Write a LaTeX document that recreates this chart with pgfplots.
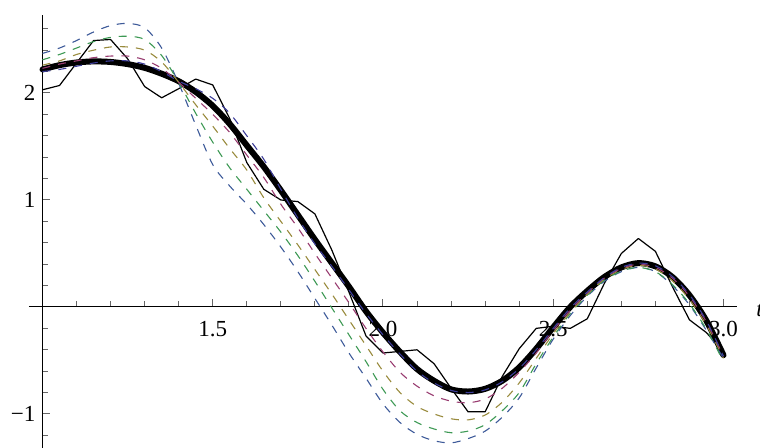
\documentclass[border=0pt]{standalone}
\usepackage{fontspec}
\setmainfont{Liberation Serif}
\usepackage{pgfplots}
\pgfplotsset{compat=1.18}
\usepackage{pgfplotstable}
\definecolor{mA}{rgb}{0.24,0.24,0.6}
\definecolor{mB}{rgb}{0.6,0.24,0.442}
\definecolor{mC}{rgb}{0.6,0.547,0.24}
\definecolor{mD}{rgb}{0.24,0.6,0.33}
\definecolor{mE}{rgb}{0.24,0.353,0.6}
\pgfplotstableread{
x     T      D1     D2     D3     D4     D5     N
1.00  2.22   2.20   2.23   2.26   2.31   2.37   2.03
1.05  2.26   2.22   2.27   2.30   2.36   2.42   2.07
1.10  2.285  2.25   2.30   2.36   2.42   2.49   2.28
1.15  2.295  2.28   2.33   2.40   2.48   2.57   2.49
1.20  2.29   2.30   2.345  2.43   2.52   2.63   2.50
1.25  2.27   2.30   2.345  2.43   2.53   2.65   2.32
1.30  2.235  2.27   2.31   2.40   2.50   2.61   2.06
1.35  2.18   2.20   2.23   2.29   2.35   2.42   1.955
1.40  2.11   2.11   2.10   2.10   2.10   2.09   2.04
1.45  2.01   2.04   1.95   1.89   1.81   1.70   2.13
1.50  1.88   1.95   1.80   1.69   1.54   1.33   2.075
1.55  1.71   1.81   1.63   1.48   1.30   1.13   1.76
1.60  1.51   1.60   1.42   1.28   1.10   0.96   1.35
1.65  1.31   1.38   1.21   1.02   0.90   0.77   1.10
1.70  1.09   1.10   0.96   0.80   0.70   0.56   1.00
1.75  0.86   0.83   0.74   0.58   0.48   0.33   0.985
1.80  0.63   0.59   0.50   0.35   0.24   0.08   0.87
1.85  0.41   0.38   0.27   0.12   -0.01  -0.17  0.53
1.90  0.19   0.16   0.04   -0.12  -0.26  -0.43  0.14
1.95  -0.04  -0.06  -0.20  -0.36  -0.51  -0.665 -0.27
2.00  -0.24  -0.26  -0.42  -0.60  -0.77  -0.905 -0.43
2.05  -0.42  -0.44  -0.61  -0.80  -0.97  -1.08  -0.415
2.10  -0.58  -0.60  -0.74  -0.93  -1.08  -1.19  -0.40
2.15  -0.69  -0.71  -0.83  -1.00  -1.14  -1.25  -0.53
2.20  -0.77  -0.78  -0.88  -1.045 -1.175 -1.27  -0.76
2.25  -0.79  -0.80  -0.895 -1.055 -1.16  -1.23  -0.98
2.30  -0.765 -0.775 -0.86  -1.01  -1.10  -1.16  -0.98
2.35  -0.69  -0.70  -0.76  -0.89  -0.97  -1.03  -0.65
2.40  -0.565 -0.575 -0.61  -0.71  -0.80  -0.85  -0.39
2.45  -0.39  -0.40  -0.43  -0.48  -0.53  -0.57  -0.20
2.50  -0.19  -0.20  -0.22  -0.25  -0.28  -0.30  -0.18
2.55  0.00   -0.01  -0.03  -0.05  -0.06  -0.08  -0.20
2.60  0.15   0.14   0.13   0.12   0.11   0.10   -0.11
2.65  0.28   0.275  0.27   0.26   0.25   0.24   0.22
2.70  0.37   0.37   0.36   0.35   0.335  0.33   0.50
2.75  0.41   0.41   0.40   0.39   0.37   0.37   0.64
2.80  0.38   0.385  0.37   0.355  0.33   0.33   0.52
2.85  0.28   0.285  0.27   0.245  0.21   0.20   0.19
2.90  0.11   0.115  0.10   0.07   0.03   0.02   -0.12
2.95  -0.13  -0.13  -0.14  -0.17  -0.21  -0.22  -0.24
3.00  -0.45  -0.46  -0.46  -0.48  -0.51  -0.48  -0.42
}\data
\begin{document}
\begin{tikzpicture}
\begin{axis}[
  x=170.25pt, y=53.5pt,
  xmin=-0.04, xmax=2.04, ymin=-1.318, ymax=2.73,
  axis lines=middle,
  axis line style={-, line width=0.5pt, black},
  xtick={0,0.5,1,1.5,2}, xticklabels={,1.5,2.0,2.5,3.0},
  ytick={-1,0,1,2}, yticklabels={−1,,1,2},
  minor xtick={0.1,0.2,0.3,0.4,0.6,0.7,0.8,0.9,1.1,1.2,1.3,1.4,1.6,1.7,1.8,1.9},
  minor ytick={-1.2,-0.8,-0.6,-0.4,-0.2,0.2,0.4,0.6,0.8,1.2,1.4,1.6,1.8,2.2,2.4,2.6},
  tick align=inside,
  major tick length=4pt, minor tick length=2.75pt,
  every tick/.style={black!60, line width=0.5pt},
  ticklabel style={font=\fontsize{11.5}{13}\selectfont},
  xticklabel style={yshift=-3.5pt},
  dashed curve/.style={line width=0.55pt, dash pattern=on 4pt off 4pt, smooth, tension=0.5},
]
\addplot[black, line width=3pt, smooth, tension=0.5, line join=round, line cap=round] table[x expr=\thisrow{x}-1, y=T] {\data};
\addplot[black, line width=0.6pt, line join=round] table[x expr=\thisrow{x}-1, y=N] {\data};
\addplot[mE, dashed curve] table[x expr=\thisrow{x}-1, y=D5] {\data};
\addplot[mD, dashed curve] table[x expr=\thisrow{x}-1, y=D4] {\data};
\addplot[mC, dashed curve] table[x expr=\thisrow{x}-1, y=D3] {\data};
\addplot[mB, dashed curve] table[x expr=\thisrow{x}-1, y=D2] {\data};
\addplot[mA, dashed curve] table[x expr=\thisrow{x}-1, y=D1] {\data};
\coordinate (bbsw) at (axis cs:-0.1248,-1.3178);
\coordinate (bbne) at (axis cs:2.1072,2.869);
\coordinate (tlab) at (axis cs:2.0955,-0.085);
\end{axis}
\node[anchor=base west, inner sep=0pt, font=\itshape\fontsize{11.5}{13}\selectfont] at (tlab) {t};
\pgfresetboundingbox
\path[use as bounding box] (bbsw) rectangle (bbne);
\end{tikzpicture}
\end{document}
